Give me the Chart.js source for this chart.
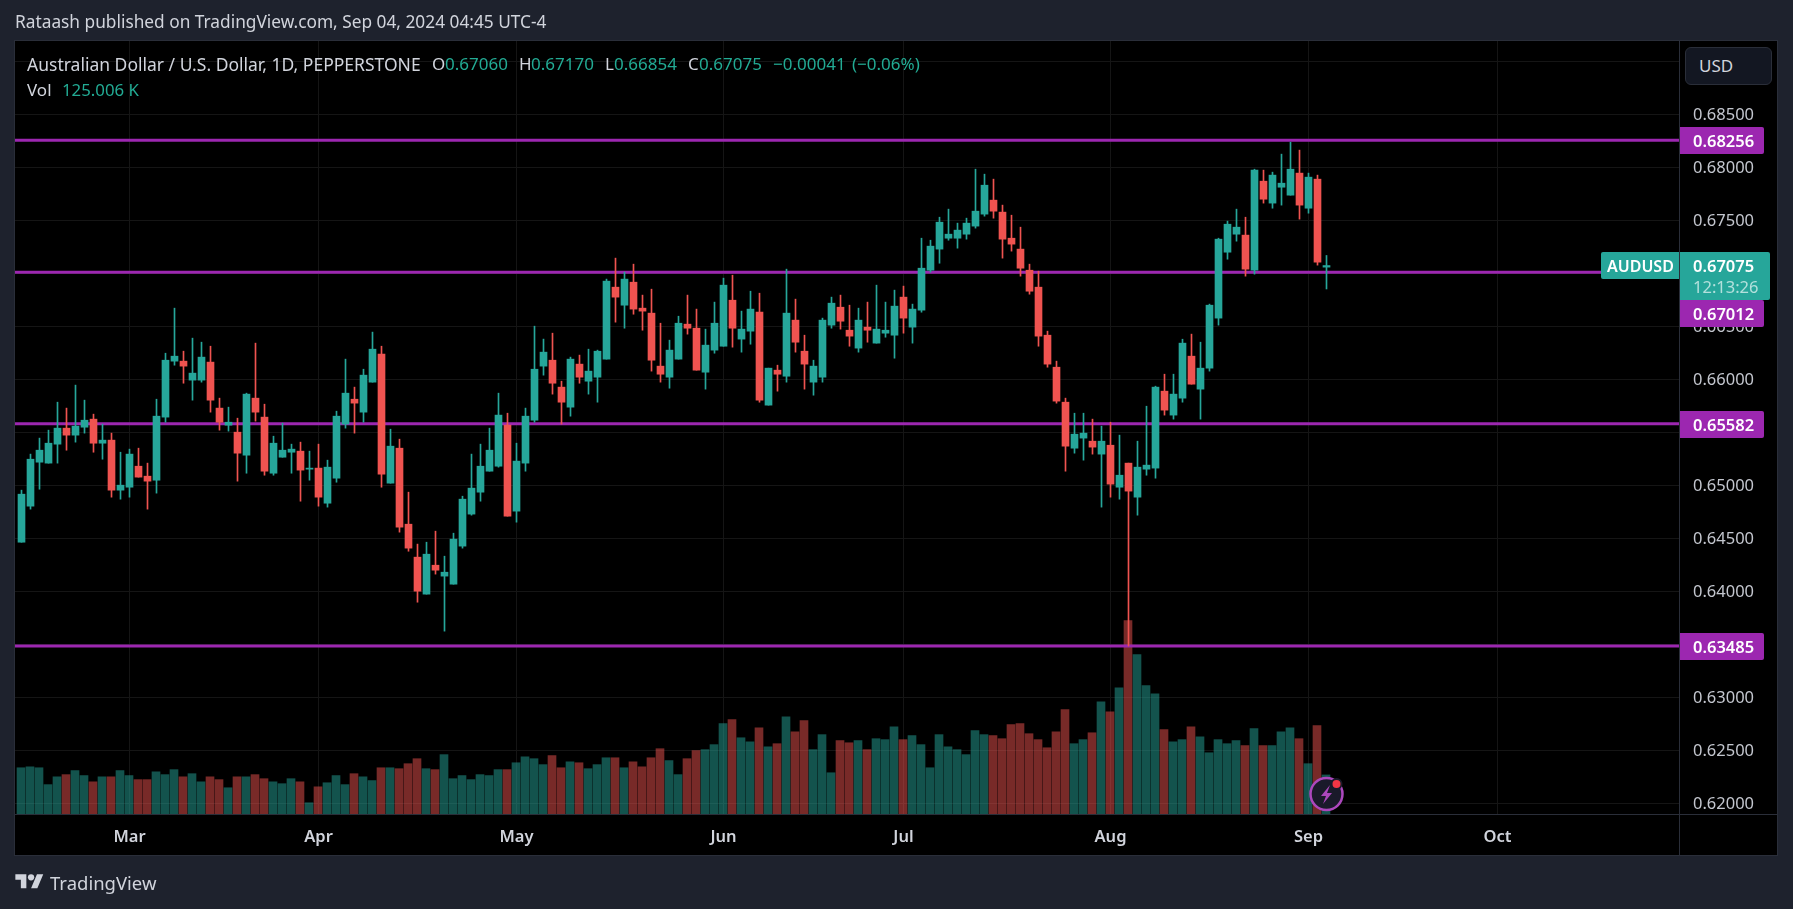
<!DOCTYPE html>
<html>
<head>
<meta charset="utf-8">
<title>AUDUSD 1D</title>
<script src="https://cdn.jsdelivr.net/npm/chart.js@4"></script>
<style>
  body { margin: 0; width: 1793px; height: 909px; background: #1e222d; overflow: hidden; position: relative; font-family: "Noto Sans", sans-serif; color: #d1d4dc; }
  .abs { position: absolute; white-space: pre; }
  .t { top: 52px; font-size: 17px; line-height: 24px; }
  #marco { left: 14px; top: 40px; width: 1764px; height: 816px; box-sizing: border-box; background: #000; border: 1px solid #2a2e39; }
  #grafico { position: absolute; left: 0; top: 0; }
  .sep { position: absolute; background: #2a2e39; }
  .verde { color: #22ab94; }
  #usd { left: 1685px; top: 47px; width: 87px; height: 38px; box-sizing: border-box; background: #131722; border: 1px solid #2a2e39; border-radius: 6px; padding-left: 13px; line-height: 36px; font-size: 17px; }
</style>
</head>
<body>
<div id="marco" class="abs"></div>
<canvas id="grafico" width="1793" height="909"></canvas>
<div class="sep" style="left:1679px;top:41px;width:1px;height:814px"></div>
<div class="sep" style="left:15px;top:814px;width:1762px;height:1px"></div>

<div class="abs" style="left:15px;top:10px;font-size:17.3px;line-height:24px">Rataash published on TradingView.com, Sep 04, 2024 04:45 UTC-4</div>
<div class="abs t" style="left:27px;font-size:17.5px">Australian Dollar / U.S. Dollar, 1D, PEPPERSTONE</div>
<div class="abs t" style="left:432px">O</div>
<div class="abs t verde" style="left:445px">0.67060</div>
<div class="abs t" style="left:519px">H</div>
<div class="abs t verde" style="left:531px">0.67170</div>
<div class="abs t" style="left:605px">L</div>
<div class="abs t verde" style="left:614px">0.66854</div>
<div class="abs t" style="left:688px">C</div>
<div class="abs t verde" style="left:699px">0.67075</div>
<div class="abs t verde" style="left:773px">−0.00041</div>
<div class="abs t verde" style="left:852px">(−0.06%)</div>
<div class="abs t" style="left:27px;top:78px">Vol</div>
<div class="abs t verde" style="left:62px;top:78px;font-size:16.8px">125.006 K</div>
<div id="usd" class="abs">USD</div>

<svg class="abs" style="left:15px;top:871px" width="29" height="22" viewBox="0 0 36 28"><path fill="#d1d4dc" d="M14 22H7V11H0V4h14v18zM28 22h-8l7.5-18h8L28 22z"/><circle fill="#d1d4dc" cx="20" cy="8" r="4"/></svg>
<div class="abs" style="left:50px;top:869px;font-size:18.5px;line-height:28px">TradingView</div>

<svg class="abs" style="left:1306px;top:774px" width="42" height="42" viewBox="0 0 42 42">
  <circle cx="20.5" cy="20" r="16" fill="#1a1a2a" stroke="#ab47bc" stroke-width="2.5"/>
  <path fill="#ab47bc" d="M24 11l-9 11h5l-3 8 9-11h-5z"/>
  <circle cx="30.5" cy="10" r="5" fill="#f23645" stroke="#1a1a2a" stroke-width="2"/>
</svg>

<script>
const opens = [0.64465,0.64805,0.65220,0.65211,0.65390,0.65541,0.65475,0.65550,0.65626,0.65399,0.65428,0.64956,0.64984,0.65182,0.65088,0.65050,0.65645,0.66173,0.66173,0.65994,0.65994,0.66164,0.65730,0.65569,0.65503,0.65286,0.65824,0.65645,0.65116,0.65267,0.65314,0.65324,0.65154,0.65164,0.64833,0.65069,0.65579,0.65814,0.65692,0.65975,0.66239,0.65022,0.65352,0.64635,0.64324,0.63975,0.64248,0.64145,0.64069,0.64428,
  0.64730,0.64937,0.65135,0.65182,0.65569,0.64758,0.65211,0.65616,0.66126,0.66182,0.65928,0.65739,0.66145,0.65984,0.66022,0.66192,0.66871,0.66701,0.66918,0.66673,0.66626,0.66126,0.66022,0.66192,0.66522,0.66484,0.66069,0.66277,0.66314,0.66748,0.66381,0.66456,0.66635,0.65758,0.66088,0.66031,0.66560,0.66267,0.65975,0.66022,0.66513,0.66682,0.66465,0.66296,0.66494,0.66343,0.66437,0.66418,0.66777,0.66494,
  0.66654,0.67031,0.67230,0.67333,0.67333,0.67371,0.67447,0.67560,0.67692,0.67579,0.67333,0.67230,0.67031,0.66871,0.66418,0.66116,0.65786,0.65352,0.65447,0.65418,0.65296,0.65380,0.64984,0.65211,0.64890,0.65154,0.65164,0.65890,0.65664,0.65824,0.66220,0.65909,0.66107,0.66579,0.67201,0.67371,0.67362,0.67031,0.67871,0.67664,0.67814,0.67739,0.67947,0.67616,0.67890,0.67060];
const highs = [0.64956,0.65296,0.65447,0.65522,0.65786,0.65730,0.65947,0.65805,0.65673,0.65579,0.65494,0.65314,0.65343,0.65352,0.65211,0.65814,0.66248,0.66673,0.66267,0.66390,0.66352,0.66314,0.65824,0.65739,0.65635,0.65871,0.66343,0.65767,0.65465,0.65588,0.65390,0.65409,0.65324,0.65390,0.65239,0.65701,0.66192,0.65928,0.66097,0.66447,0.66314,0.65531,0.65437,0.64937,0.64447,0.64465,0.64569,0.64333,0.64550,0.64899,
  0.65296,0.65390,0.65541,0.65871,0.65682,0.65399,0.65730,0.66503,0.66381,0.66437,0.65984,0.66211,0.66230,0.66286,0.66277,0.66947,0.67145,0.67013,0.67088,0.66796,0.66852,0.66531,0.66371,0.66597,0.66796,0.66664,0.66475,0.66730,0.66956,0.66984,0.66645,0.66833,0.66814,0.66107,0.66135,0.67041,0.66758,0.66418,0.66182,0.66579,0.66777,0.66796,0.66701,0.66673,0.66730,0.66890,0.66730,0.66843,0.66881,0.66711,
  0.67333,0.67314,0.67531,0.67607,0.67475,0.67522,0.67984,0.67937,0.67890,0.67645,0.67550,0.67437,0.67088,0.67022,0.66456,0.66173,0.65824,0.65682,0.65682,0.65626,0.65560,0.65597,0.65475,0.65211,0.65418,0.65748,0.65937,0.66050,0.66050,0.66380,0.66428,0.66352,0.66711,0.67333,0.67494,0.67607,0.67531,0.67984,0.67975,0.67956,0.68126,0.68239,0.68164,0.67947,0.67928,0.67170];
const lows = [0.64465,0.64777,0.64965,0.65211,0.65211,0.65333,0.65409,0.65494,0.65314,0.65248,0.64890,0.64871,0.64890,0.65079,0.64777,0.64928,0.65597,0.66135,0.65965,0.65805,0.65975,0.65692,0.65522,0.65513,0.65041,0.65116,0.65607,0.65097,0.65097,0.65267,0.65116,0.64852,0.65050,0.64805,0.64796,0.65031,0.65541,0.65494,0.65597,0.65975,0.64984,0.65022,0.64560,0.64380,0.63899,0.63975,0.64164,0.63626,0.64069,0.64409,
  0.64720,0.64852,0.65135,0.65173,0.64711,0.64654,0.65135,0.65597,0.66041,0.65862,0.65579,0.65654,0.65965,0.65862,0.65786,0.66192,0.66541,0.66484,0.66616,0.66465,0.66079,0.65975,0.65918,0.66192,0.66428,0.66088,0.65909,0.66248,0.66314,0.66305,0.66258,0.66333,0.65786,0.65758,0.65890,0.65975,0.66258,0.65909,0.65852,0.65975,0.66484,0.66475,0.66314,0.66258,0.66352,0.66343,0.66399,0.66201,0.66437,0.66343,
  0.66635,0.67013,0.67097,0.67314,0.67239,0.67324,0.67428,0.67541,0.67522,0.67145,0.67211,0.66975,0.66805,0.66314,0.66116,0.65777,0.65135,0.65305,0.65239,0.65296,0.64796,0.64890,0.64871,0.63485,0.64720,0.65097,0.65069,0.65664,0.65626,0.65786,0.65956,0.65626,0.66079,0.66513,0.67135,0.67305,0.66975,0.66994,0.67664,0.67616,0.67645,0.67739,0.67513,0.67569,0.67079,0.66854];
const closes = [0.64918,0.65248,0.65333,0.65399,0.65541,0.65475,0.65560,0.65616,0.65399,0.65428,0.64956,0.65003,0.65296,0.65079,0.65041,0.65654,0.66182,0.66220,0.66126,0.66060,0.66211,0.65805,0.65597,0.65597,0.65305,0.65862,0.65692,0.65135,0.65399,0.65333,0.65343,0.65145,0.65164,0.64890,0.65173,0.65654,0.65871,0.65777,0.66041,0.66286,0.65107,0.65371,0.64607,0.64409,0.64003,0.64352,0.64201,0.64182,0.64494,0.64871,
  0.64975,0.65182,0.65333,0.65664,0.64711,0.65230,0.65654,0.66097,0.66258,0.65965,0.65786,0.66192,0.66022,0.66079,0.66267,0.66928,0.66777,0.66947,0.66664,0.66645,0.66182,0.66050,0.66277,0.66531,0.66484,0.66088,0.66324,0.66531,0.66890,0.66484,0.66475,0.66664,0.65805,0.66107,0.66050,0.66626,0.66352,0.66145,0.66126,0.66560,0.66720,0.66550,0.66409,0.66560,0.66465,0.66475,0.66465,0.66692,0.66579,0.66664,
  0.67050,0.67258,0.67484,0.67371,0.67409,0.67475,0.67588,0.67833,0.67588,0.67324,0.67277,0.67050,0.66833,0.66409,0.66145,0.65796,0.65371,0.65484,0.65494,0.65362,0.65418,0.65013,0.65097,0.64947,0.65173,0.65192,0.65928,0.65711,0.65862,0.66343,0.65956,0.66107,0.66701,0.67324,0.67465,0.67437,0.67041,0.67975,0.67701,0.67928,0.67852,0.67984,0.67645,0.67909,0.67107,0.67075];
// volume in thousands
const volumes = [148,151,148,94,119,126,139,123,103,119,119,139,123,110,110,135,126,142,119,129,103,119,110,84,119,119,126,113,103,97,113,103,36,87,100,123,94,129,119,107,148,148,145,161,177,145,142,190,113,123,
  110,126,123,142,142,164,183,177,158,187,148,167,164,145,158,180,180,148,167,151,180,209,171,126,177,203,206,222,289,302,244,231,276,215,225,311,263,299,206,254,132,235,228,235,206,241,238,279,238,251,
  222,148,254,215,206,190,267,254,251,241,286,289,257,238,212,263,334,225,238,260,359,327,404,619,510,411,385,270,231,238,279,247,196,238,225,235,219,273,219,219,263,276,241,161,283,125];

const monthIdx = [12, 33, 55, 78, 98, 121, 143, 164];
const monthLabels = ['Mar', 'Apr', 'May', 'Jun', 'Jul', 'Aug', 'Sep', 'Oct'];
const priceTicks = [0.62, 0.625, 0.63, 0.635, 0.64, 0.645, 0.65, 0.655, 0.66, 0.665, 0.67, 0.675, 0.68, 0.685, 0.69];
const levels = [0.68256, 0.67012, 0.65582, 0.63485];
const lastPrice = 0.67075;

const xMin = -0.7222, xMax = 184.1667;
const yMin = 0.619009, yMax = 0.691934;
const volMax = 2474;

const UP = '#26a69a', DOWN = '#ef5350';
const UP_VOL = 'rgba(38,166,154,0.5)', DOWN_VOL = 'rgba(239,83,80,0.5)';
const PURPLE = '#9c27b0';
const FONT = '"Noto Sans", sans-serif';

const isUp = i => closes[i] >= opens[i];

const datasets = [];

// volume goes at the back, on its own hidden axes
datasets.push({
  type: 'bar',
  data: volumes.map((v, i) => ({ x: i, y: v })),
  xAxisID: 'xVol', yAxisID: 'yVol',
  backgroundColor: volumes.map((v, i) => isUp(i) ? UP_VOL : DOWN_VOL),
  barThickness: 8, order: 5
});

// support and resistance lines
levels.forEach(v => {
  datasets.push({
    type: 'line',
    data: [{ x: xMin, y: v }, { x: xMax, y: v }],
    xAxisID: 'x', yAxisID: 'y',
    borderColor: PURPLE, borderWidth: 3, pointRadius: 0, order: 4
  });
});

// wicks
datasets.push({
  type: 'bar',
  data: highs.map((h, i) => ({ x: i, y: [lows[i], h] })),
  xAxisID: 'x', yAxisID: 'y',
  backgroundColor: highs.map((h, i) => isUp(i) ? UP : DOWN),
  barThickness: 1, order: 2
});

// bodies
datasets.push({
  type: 'bar',
  data: opens.map((o, i) => ({ x: i, y: [Math.min(o, closes[i]), Math.max(o, closes[i])] })),
  xAxisID: 'x', yAxisID: 'y',
  backgroundColor: opens.map((o, i) => isUp(i) ? UP : DOWN),
  barThickness: 7, minBarLength: 1, order: 1
});

function rect(ctx, x, y, w, h, r) {
  ctx.beginPath();
  ctx.roundRect(x, y, w, h, r);
  ctx.fill();
}

// price tags over the right axis
const priceTags = {
  id: 'priceTags',
  afterDraw(chart) {
    const ctx = chart.ctx;
    const yScale = chart.scales.y;
    ctx.save();
    ctx.textBaseline = 'middle';
    ctx.textAlign = 'left';

    levels.forEach(v => {
      // 0.67012 sits lower, pushed down by the last price tag
      const shift = v === 0.67012 ? 41 : 0;
      const y = Math.round(yScale.getPixelForValue(v)) + shift;
      ctx.fillStyle = PURPLE;
      rect(ctx, 1680, y - 13, 84, 27, [0, 2, 2, 0]);
      ctx.fillStyle = '#fff';
      ctx.font = '600 16.5px ' + FONT;
      ctx.fillText(v.toFixed(5), 1693, y + 2);
    });

    const y = Math.round(yScale.getPixelForValue(lastPrice));
    ctx.fillStyle = UP;
    rect(ctx, 1601, y - 14, 78, 27, [2, 0, 0, 2]);
    rect(ctx, 1680, y - 14, 90, 48, [0, 2, 2, 0]);
    ctx.fillStyle = '#fff';
    ctx.font = '600 16px ' + FONT;
    ctx.fillText('AUDUSD', 1607, y + 1);
    ctx.font = '600 16.5px ' + FONT;
    ctx.fillText(lastPrice.toFixed(5), 1693, y + 1);
    ctx.fillStyle = 'rgba(255,255,255,0.65)';
    ctx.font = '16.5px ' + FONT;
    ctx.fillText('12:13:26', 1693, y + 22);
    ctx.restore();
  }
};

new Chart(document.getElementById('grafico'), {
  data: { datasets },
  plugins: [priceTags],
  options: {
    responsive: false,
    animation: false,
    layout: { padding: { left: 15, top: 41, right: 16, bottom: 54 } },
    plugins: { legend: { display: false }, tooltip: { enabled: false } },
    events: [],
    datasets: { bar: { grouped: false, borderWidth: 0 } },
    scales: {
      x: {
        type: 'linear', min: xMin, max: xMax, position: 'bottom', offset: false,
        afterBuildTicks: s => { s.ticks = monthIdx.map(v => ({ value: v })); },
        afterFit: s => { s.height = 41; },
        grid: { color: '#151515', drawTicks: false, offset: false },
        border: { display: false },
        ticks: {
          autoSkip: false, maxRotation: 0, padding: 13, color: '#d1d4dc',
          font: { family: FONT, size: 16.5, weight: '600' },
          callback: v => monthLabels[monthIdx.indexOf(v)]
        }
      },
      y: {
        type: 'linear', min: yMin, max: yMax, position: 'right',
        afterBuildTicks: s => { s.ticks = priceTicks.map(v => ({ value: v })); },
        afterFit: s => { s.width = 98; },
        grid: { color: '#151515', drawTicks: false },
        border: { display: false },
        ticks: {
          padding: 14, labelOffset: 1, color: '#c3c6ce',
          font: { family: FONT, size: 16.5 },
          callback: v => v.toFixed(5)
        }
      },
      xVol: { type: 'linear', display: false, offset: false, min: xMin + 0.5 / 9, max: xMax + 0.5 / 9 },
      yVol: { type: 'linear', display: false, min: 0, max: volMax }
    }
  }
});
</script>
</body>
</html>
